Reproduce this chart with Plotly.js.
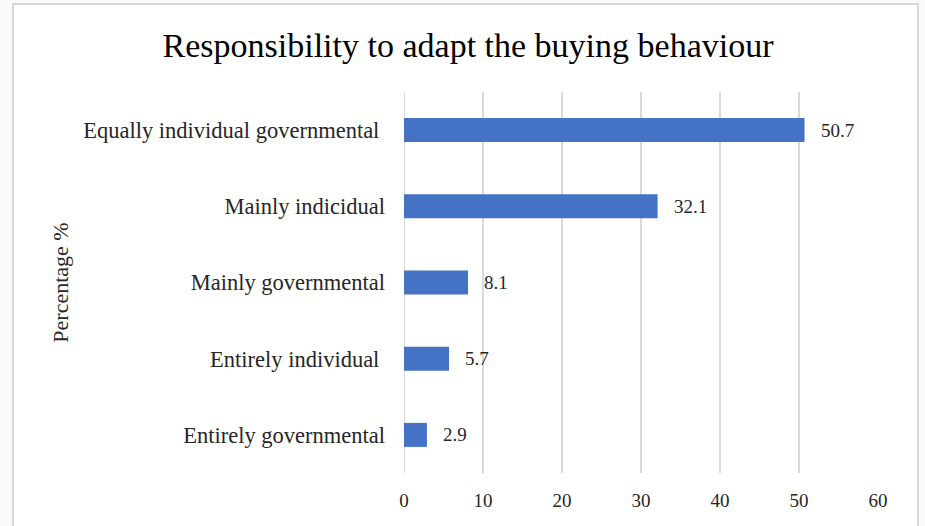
<!DOCTYPE html>
<html>
<head>
<meta charset="utf-8">
<script src="https://cdn.plot.ly/plotly-3.0.1.min.js"></script>
<style>
  html, body { margin: 0; padding: 0; background: #fafafa; width: 925px; height: 526px; overflow: hidden; }
  #frame { position: absolute; left: 12px; top: 3px; width: 907px; height: 540px; background: #ffffff; border: 2px solid #d9d9d9; box-sizing: border-box; }
  #chart { position: absolute; left: 0; top: 0; width: 925px; height: 526px; }
</style>
</head>
<body>
<div id="frame"></div>
<div id="chart"></div>
<script>
const categories = [
  "Equally individual governmental ",
  "Mainly indicidual",
  "Mainly governmental",
  "Entirely individual ",
  "Entirely governmental"
];
const percentages = [50.7, 32.1, 8.1, 5.7, 2.9];
const xTicks = [0, 10, 20, 30, 40, 50, 60];

const serif = "Liberation Serif, Times New Roman, serif";
const textColor = "#262626";

const trace = {
  type: "bar",
  orientation: "h",
  x: percentages,
  y: categories,
  width: 0.315,
  marker: { color: "#4472c4" },
  hoverinfo: "none"
};

const annotations = percentages.map((v, i) => ({
  x: v,
  y: categories[i],
  xref: "x",
  yref: "y",
  text: String(v),
  showarrow: false,
  xanchor: "left",
  yanchor: "middle",
  xshift: 14,
  font: { family: serif, size: 19, color: textColor }
}));

const layout = {
  width: 925,
  height: 526,
  paper_bgcolor: "rgba(0,0,0,0)",
  plot_bgcolor: "rgba(0,0,0,0)",
  margin: { l: 404, r: 47, t: 92, b: 53 },
  showlegend: false,
  title: {
    text: "Responsibility to adapt the buying behaviour",
    font: { family: serif, size: 34, color: "#000000" },
    x: 0.506,
    xanchor: "center",
    y: 0.915,
    yanchor: "middle"
  },
  xaxis: {
    range: [0, 60],
    tickvals: xTicks,
    ticktext: xTicks.map(String),
    showgrid: true,
    gridcolor: "#d9d9d9",
    gridwidth: 2,
    zeroline: false,
    showline: false,
    ticks: "",
    ticklabelstandoff: 14,
    tickfont: { family: serif, size: 19, color: textColor },
    fixedrange: true
  },
  yaxis: {
    type: "category",
    autorange: "reversed",
    showgrid: false,
    zeroline: false,
    showline: false,
    ticks: "",
    ticklabelstandoff: 18,
    tickfont: { family: serif, size: 22.5, color: textColor },
    title: {
      text: "Percentage %",
      font: { family: serif, size: 22, color: textColor },
      standoff: 8
    },
    fixedrange: true
  },
  shapes: [{
    type: "line", xref: "x", yref: "paper",
    x0: 0, x1: 0, y0: 0, y1: 1,
    line: { color: "#d9d9d9", width: 2 },
    layer: "below"
  }],
  annotations: annotations
};

Plotly.newPlot("chart", [trace], layout, { displayModeBar: false, staticPlot: true });
</script>
</body>
</html>
